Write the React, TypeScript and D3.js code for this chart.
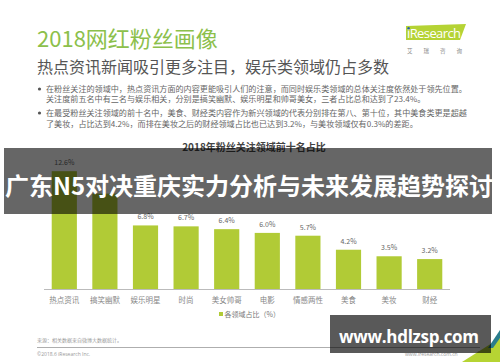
import React from "react";
import * as d3 from "d3";

const categories = ["热点资讯", "搞笑幽默", "娱乐明星", "时尚", "美女帅哥", "电影", "情感两性", "美食", "美妆", "财经"];
const values = [12.6, 10.2, 6.8, 6.7, 6.4, 6.0, 5.7, 4.2, 3.5, 3.2];
const bulletLines = [
  "在粉丝关注的领域中，热点资讯方面的内容更能吸引人们的注意，而同时娱乐类领域的总体关注度依然处于领先位置。",
  "关注度前五名中有三名与娱乐相关，分别是搞笑幽默、娱乐明星和帅哥美女，三者占比总和达到了23.4%。",
  "在最受粉丝关注领域的前十名中，美食、财经类内容作为新兴领域的代表分别排在第八、第十位，其中美食类更是超越",
  "了美妆，占比达到4.2%，而排在美妆之后的财经领域占比也已达到3.2%，与美妆领域仅有0.3%的差距。",
];

const W = 500;
const H = 362;
const CJK = "'Noto Sans CJK SC', 'Noto Sans', sans-serif";
const BAR = "#b1cb36";
const BANNER_TOP = 148;
const BANNER_BOTTOM = 214;
const BANNER_TEXT_TOP = 172;
const BANNER_TEXT_BOTTOM = 202;

export default function App() {
  const x = d3.scaleBand<string>().domain(categories).range([44, 450]).paddingInner(0.38).paddingOuter(0.19);
  const y = d3.scaleLinear().domain([0, 14]).range([289, 158.1]);
  const bulletY = [92, 102, 116, 127];
  return (
    <svg width={W} height={H} style={{ position: "absolute", left: 0, top: 0, background: "#fff" }} fontFamily={CJK}>
      <rect x={0} y={0} width={W} height={H} fill="#fff" />
      {/* header */}
      <text x={37} y={47} fontSize={22} fill="#8cc04b">2018网红粉丝画像</text>
      <text x={37} y={73} fontSize={16} fill="#555">热点资讯新闻吸引更多注目，娱乐类领域仍占多数</text>
      {bulletLines.map((t, i) => (
        <text key={i} x={46} y={bulletY[i]} fontSize={8.1} fill="#666">{t}</text>
      ))}
      <circle cx={39.5} cy={89} r={1.6} fill="#555" />
      <circle cx={39.5} cy={113} r={1.6} fill="#555" />
      {/* logo */}
      <polygon points="406,26 466,24 460,40 406,40" fill="#b5d334" />
      <text x={407} y={37.5} fontSize={13} fill="#fff" fontFamily="'Open Sans', sans-serif" textLength={54}>iResearch</text>
      <circle cx={408.6} cy={28.3} r={1.2} fill="#2b5fa8" />
      <text x={407} y={53} fontSize={5.5} fill="#888" textLength={55} lengthAdjust="spacing">艾瑞咨询</text>
      {/* chart title */}
      <text x={254} y={151} fontSize={10} fontWeight="bold" fill="#444" textAnchor="middle">2018年粉丝关注领域前十名占比</text>
      {/* bars */}
      {categories.map((c, i) => {
        const ly = y(values[i]) - 6;
        const hidden = ly > BANNER_TEXT_TOP && ly < BANNER_TEXT_BOTTOM;
        return (
          <g key={c}>
            <rect x={x(c)} y={y(values[i])} width={x.bandwidth()} height={y(0) - y(values[i])} fill={BAR} />
            {!hidden && (
              <text x={(x(c) as number) + x.bandwidth() / 2} y={ly} fontSize={7} fill="#666" textAnchor="middle">
                {values[i].toFixed(1)}%
              </text>
            )}
            <text x={(x(c) as number) + x.bandwidth() / 2} y={303} fontSize={7.5} fill="#888" textAnchor="middle">{c}</text>
          </g>
        );
      })}
      <line x1={44} x2={450} y1={289.5} y2={289.5} stroke="#bbb" strokeWidth={1} />
      {/* legend */}
      <rect x={219} y={312} width={4} height={4} fill={BAR} />
      <text x={224.5} y={316.5} fontSize={7} fill="#777">各领域占比（%）</text>
      {/* footer */}
      <text x={37} y={342} fontSize={5} fill="#999">来源：相关数据来自微博大数据统计。</text>
      <line x1={37} x2={480} y1={347.5} y2={347.5} stroke="#999" strokeWidth={0.8} />
      <text x={37} y={355.5} fontSize={5} fill="#999" fontFamily="'Open Sans', sans-serif">©2018.6 iResearch Inc.</text>
      <text x={405} y={355.5} fontSize={5} fill="#999" fontFamily="'Open Sans', sans-serif">www.iresearch.com.cn</text>
      <text x={477} y={355.5} fontSize={6} fill="#bbb">17</text>
      <polygon points="462,362 500,362 500,338" fill="#b6d433" />
      <polygon points="488,348 500,330 500,338 493,348" fill="#2a7d8c" />
      {/* overlays */}
      <rect x={4} y={BANNER_TOP} width={488} height={BANNER_BOTTOM - BANNER_TOP} fill="rgba(0,0,0,0.6)" />
      <text x={249} y={195} fontSize={24} fontWeight="bold" fill="#fff" textAnchor="middle">广东N5对决重庆实力分析与未来发展趋势探讨</text>
      <rect x={330} y={315} width={161} height={38} fill="rgba(0,0,0,0.65)" />
      <text x={339} y={343} fontSize={17} fontWeight="bold" fill="#fff" fontFamily="'Open Sans', sans-serif" textLength={140}>www.hdlzsp.com</text>
    </svg>
  );
}
